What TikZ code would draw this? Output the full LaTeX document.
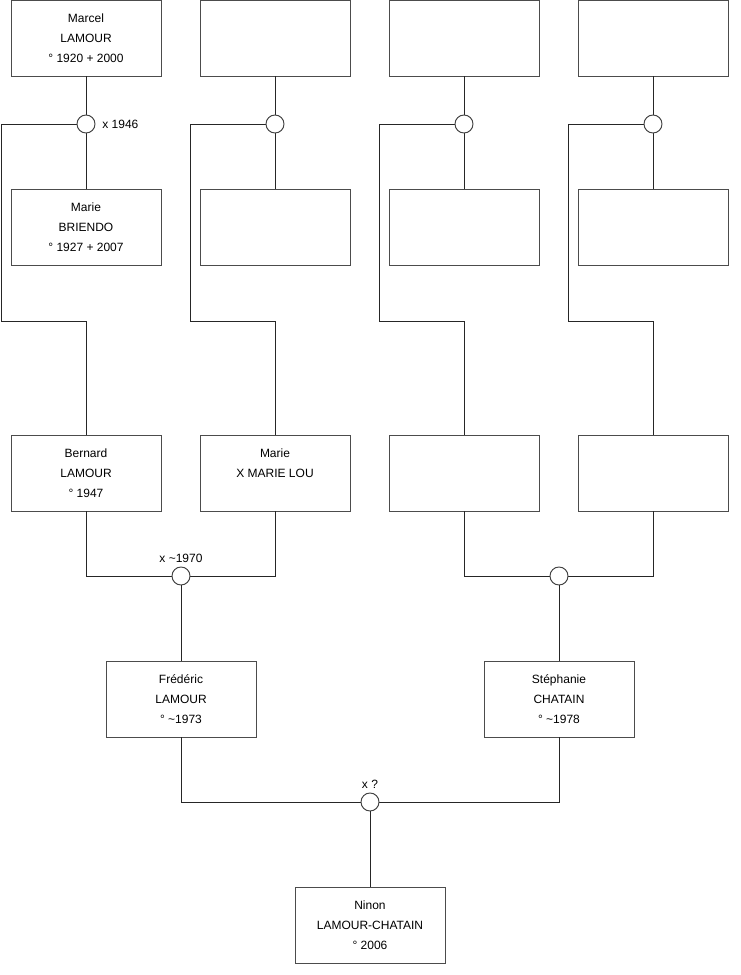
\documentclass[tikz,border=0pt]{standalone}
\usepackage{fontspec}
\setmainfont{Liberation Sans}
\usetikzlibrary{positioning}

\tikzset{
  person/.style={draw=black!70, line width=0.7pt, minimum width=112.5pt, minimum height=57pt,
    inner sep=0pt, align=center, font=\fontsize{9}{15}\selectfont},
  union/.style={circle, draw=black!75, line width=0.7pt, fill=white, minimum size=13.5pt, inner sep=0pt},
  link/.style={draw=black!85, line width=0.7pt},
  date/.style={font=\fontsize{9}{11}\selectfont, inner sep=1pt}
}

\begin{document}
\begin{tikzpicture}[x=0.75pt, y=-0.75pt]
  \useasboundingbox (0,0) rectangle (740,975);

  % grand-parents
  \node[person] (g1) at (86,38) {Marcel\\LAMOUR\\° 1920 + 2000};
  \node[person] (g2) at (275,38) {};
  \node[person] (g3) at (464,38) {};
  \node[person] (g4) at (653,38) {};
  \node[person] (h1) at (86,227) {Marie\\BRIENDO\\° 1927 + 2007};
  \node[person] (h2) at (275,227) {};
  \node[person] (h3) at (464,227) {};
  \node[person] (h4) at (653,227) {};

  % parents
  \node[person] (p1) at (86,473) {Bernard\\LAMOUR\\° 1947};
  \node[person] (p2) at (275,473) {Marie\\X MARIE LOU\\\mbox{}};
  \node[person] (p3) at (464,473) {};
  \node[person] (p4) at (653,473) {};

  \node[person] (fred) at (181,699) {Frédéric\\LAMOUR\\° \textasciitilde1973};
  \node[person] (steph) at (559,699) {Stéphanie\\CHATAIN\\° \textasciitilde1978};
  \node[person] (ninon) at (370,925) {Ninon\\LAMOUR-CHATAIN\\° 2006};

  % unions of the grand-parents
  \foreach \i/\x in {1/86, 2/275, 3/464, 4/653} {
    \coordinate (k\i) at ({\x-85},321);
    \draw[link] (g\i.south) -- (h\i.north);
    \draw[link] (k\i) |- ({\x},124);
    \draw[link] (k\i) -| (p\i.north);
    \node[union] (c\i) at (\x,124) {};
  }
  \node[date, right=4pt of c1] {x 1946};

  % unions of the parents
  \draw[link] (p1.south) |- (p2.south |- 576,576) -- (p2.south);
  \draw[link] (p3.south) |- (p4.south |- 576,576) -- (p4.south);
  \node[union] (m1) at (181,576) {};
  \node[union] (m2) at (559,576) {};
  \node[date, above=2pt of m1] {x \textasciitilde1970};
  \draw[link] (m1.south) -- (fred.north);
  \draw[link] (m2.south) -- (steph.north);

  \draw[link] (fred.south) |- (steph.south |- 802,802) -- (steph.south);
  \node[union] (m3) at (370,802) {};
  \node[date, above=2pt of m3] {x ?};
  \draw[link] (m3.south) -- (ninon.north);
\end{tikzpicture}
\end{document}
